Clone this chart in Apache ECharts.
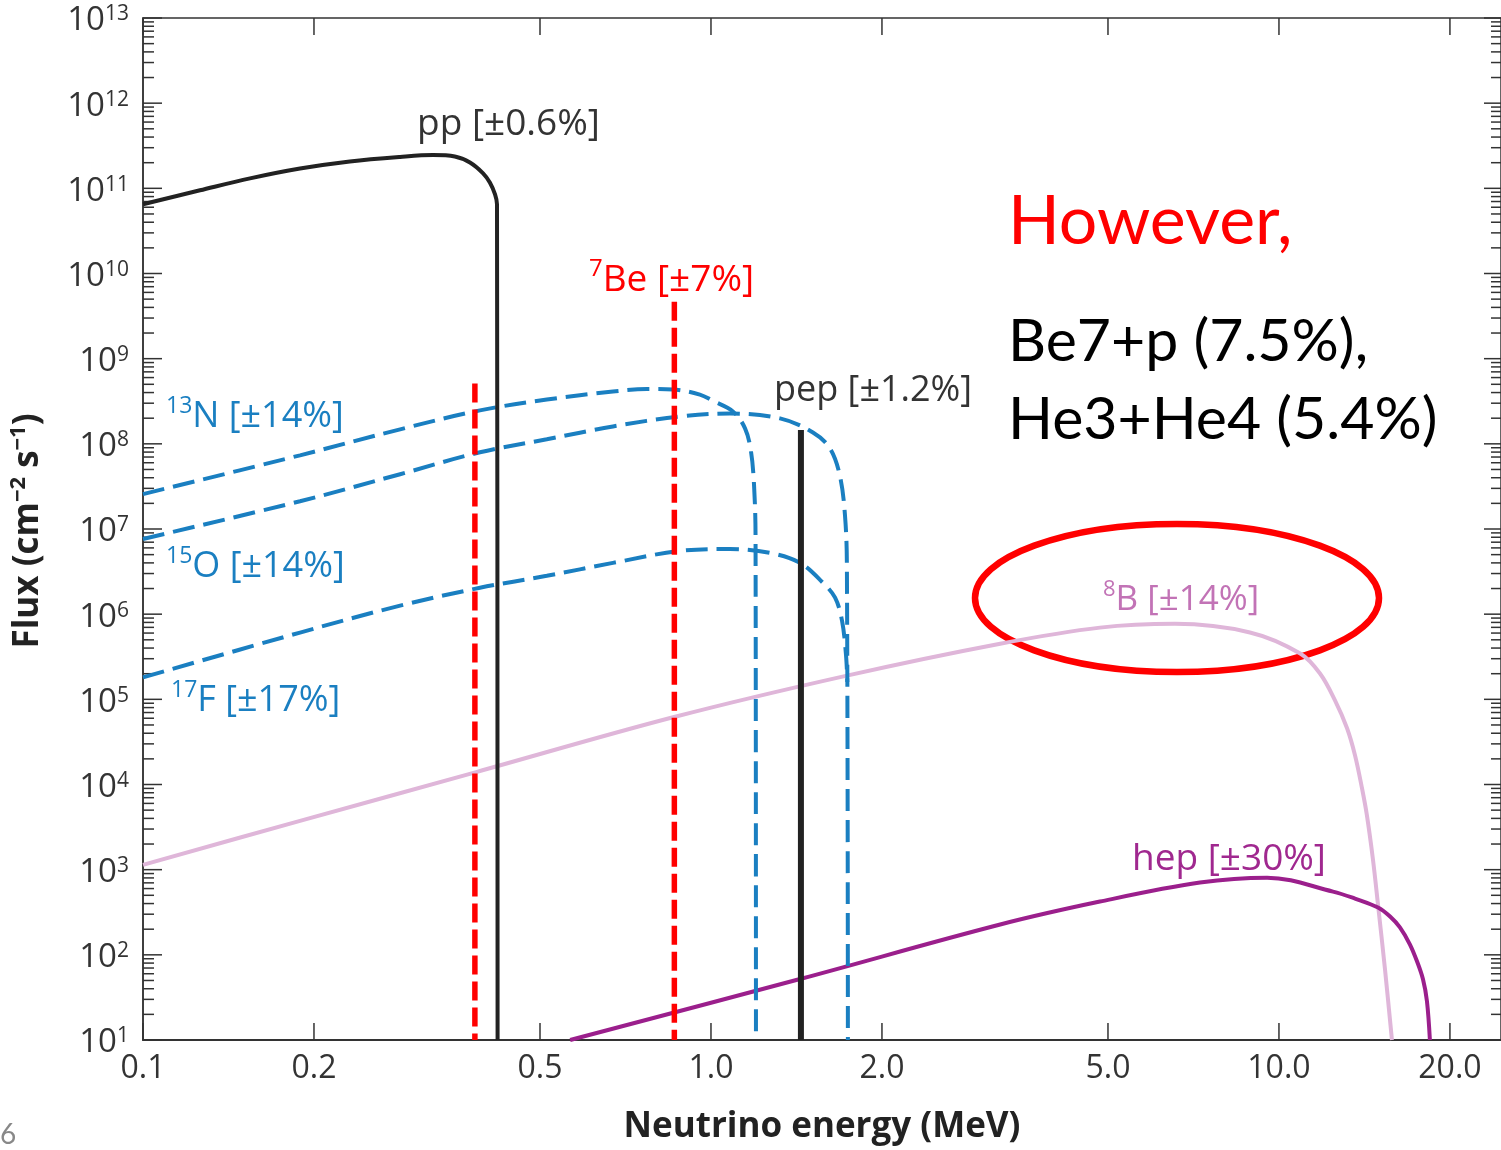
<!DOCTYPE html>
<html>
<head>
<meta charset="utf-8">
<script src="https://cdn.jsdelivr.net/npm/echarts@6/dist/echarts.min.js"></script>
<style>
  html, body { margin: 0; padding: 0; background: #fff; }
  #chart { width: 1501px; height: 1150px; }
</style>
</head>
<body>
<div id="chart"></div>
<script>
// axis ticks
var xMin = 0.1, xMax = 24.6;
var yMin = 10, yMax = 1e13;
var xTicks = [0.1, 0.2, 0.5, 1, 2, 5, 10, 20];
var xTickLabels = ['0.1', '0.2', '0.5', '1.0', '2.0', '5.0', '10.0', '20.0'];
var yExponents = [1, 2, 3, 4, 5, 6, 7, 8, 9, 10, 11, 12, 13];
var yMinorSteps = [2, 3, 4, 5, 6, 7, 8, 9];

// spectra, [energy MeV, flux]
var ppSpectrum = [[0.1, 6.5e10], [0.126, 9.48e10], [0.1543, 1.31e11], [0.189, 1.71e11], [0.2313, 2.07e11],
  [0.2836, 2.34e11], [0.324, 2.46e11], [0.354, 2.37e11], [0.3764, 2.01e11], [0.397, 1.5e11],
  [0.408, 1.17e11], [0.4167, 8.5e10], [0.42, 6.5e10], [0.421, 10]];
var n13Spectrum = [[0.1, 2.57e7], [0.189, 7.33e7], [0.2836, 1.48e8], [0.392, 2.47e8], [0.514, 3.31e8],
  [0.672, 4.11e8], [0.771, 4.4e8], [0.857, 4.34e8], [0.956, 3.79e8], [1.008, 3.2e8], [1.093, 2.4e8],
  [1.148, 1.52e8], [1.176, 8.17e7], [1.191, 3.18e7], [1.198, 8.28e6], [1.2, 10]];
var o15Spectrum = [[0.1, 7.64e6], [0.189, 2.12e7], [0.2836, 4.4e7], [0.392, 7.96e7], [0.514, 1.13e8],
  [0.672, 1.6e8], [0.882, 2.1e8], [1.08, 2.27e8], [1.323, 1.99e8], [1.512, 1.36e8], [1.62, 8.85e7],
  [1.687, 4.17e7], [1.722, 1.42e7], [1.735, 3.69e6], [1.742, 10]];
// 17F merges into the 15O drop, so it stops there
var f17Spectrum = [[0.1, 1.81e5], [0.189, 6.08e5], [0.2836, 1.26e6], [0.392, 2.04e6], [0.514, 2.82e6],
  [0.672, 4.0e6], [0.882, 5.53e6], [1.08, 5.83e6], [1.27, 5.24e6], [1.435, 4.0e6], [1.575, 2.33e6],
  [1.654, 1.56e6], [1.701, 8.4e5], [1.729, 3.27e5], [1.738, 1.6e5]];
var b8Spectrum = [[0.1, 1.14e3], [0.189, 3.74e3], [0.386, 1.4e4], [0.861, 6.2e4], [1.735, 1.9e5],
  [3.23, 4.5e5], [4.84, 6.95e5], [6.56, 7.7e5], [8.89, 6.1e5], [10.9, 3.45e5], [11.81, 2.01e5],
  [12.55, 9.73e4], [13.18, 4.58e4], [13.61, 2.21e4], [14.0, 9.1e3], [14.28, 4.4e3], [14.64, 1.31e3],
  [14.94, 390], [15.37, 67.7], [15.81, 10]];
var hepSpectrum = [[0.565, 10], [1.435, 52], [3.23, 227], [4.84, 422], [7.26, 705], [9.53, 806],
  [12.45, 553], [13.61, 458], [14.94, 360], [15.69, 282], [16.33, 210], [17.0, 133], [17.5, 84],
  [17.93, 51.7], [18.22, 28.6], [18.44, 10]];
var be7LowLine = [[0.384, 5.1e8], [0.384, 10]];
var be7HighLine = [[0.862, 4.65e9], [0.862, 10]];
var pepLine = [[1.44, 1.45e8], [1.44, 10]];

var axisColor = '#333';
var textFont = '"Open Sans", "Noto Sans", sans-serif';
var slideFont = 'Lato, "Noto Sans", sans-serif';
var blue = '#1a7fc1';
var red = '#ff0000';

var yTickData = [];
yExponents.forEach(function (e) {
  yTickData.push([xMin, Math.pow(10, e), e]);
  if (e < yExponents[yExponents.length - 1]) {
    yMinorSteps.forEach(function (k) { yTickData.push([xMin, k * Math.pow(10, e), 0]); });
  }
});
var xTickData = xTicks.map(function (v) { return [v, yMin]; });

function lineSeries(data, color, width, type, smooth) {
  return {
    type: 'line',
    data: data,
    symbol: 'none',
    smooth: smooth,
    silent: true,
    lineStyle: { color: color, width: width, type: type, cap: 'butt' }
  };
}

function supLabel(sup, rest, color, size) {
  var ss = Math.round(size * 0.64);
  return {
    text: '{s|' + sup + '}{b|' + rest + '}',
    verticalAlign: 'middle',
    rich: {
      s: { fontSize: ss, lineHeight: ss, verticalAlign: 'top', fill: color, fontFamily: textFont },
      b: { fontSize: size, lineHeight: size + 8, fill: color, fontFamily: textFont }
    }
  };
}

function plainLabel(text, color, size) {
  return { text: text, fontFamily: textFont, fontSize: size, fill: color, verticalAlign: 'middle' };
}

var chart = echarts.init(document.getElementById('chart'));

chart.setOption({
  animation: false,
  backgroundColor: '#fff',
  grid: { left: 143, right: 0, top: 18, bottom: 104, show: true, borderColor: axisColor, borderWidth: 1.5 },
  xAxis: {
    type: 'log', logBase: 10, min: xMin, max: xMax,
    axisLine: { lineStyle: { color: axisColor, width: 2 } },
    axisTick: { show: false }, axisLabel: { show: false }, splitLine: { show: false },
    name: 'Neutrino energy (MeV)', nameLocation: 'middle', nameGap: 70,
    nameTextStyle: { fontFamily: textFont, fontWeight: 'bold', fontSize: 35, color: '#222' }
  },
  yAxis: {
    type: 'log', logBase: 10, min: yMin, max: yMax,
    axisLine: { lineStyle: { color: axisColor, width: 1.5 } },
    axisTick: { show: false }, axisLabel: { show: false }, splitLine: { show: false }
  },
  series: [
    lineSeries(b8Spectrum, '#dfb6d9', 4, 'solid', 0.35),
    lineSeries(hepSpectrum, '#9b1f8c', 4, 'solid', 0.35),
    lineSeries(f17Spectrum, blue, 4, [22, 9], 0.35),
    lineSeries(o15Spectrum, blue, 4, [22, 9], 0.35),
    lineSeries(n13Spectrum, blue, 4, [22, 9], 0.35),
    lineSeries(ppSpectrum, '#222', 4, 'solid', 0.35),
    lineSeries(pepLine, '#222', 6, 'solid', false),
    lineSeries(be7LowLine, red, 5.5, [19, 7], false),
    lineSeries(be7HighLine, red, 5.5, [19, 7], false),
    {
      // x ticks on bottom and top, with labels
      type: 'custom', silent: true, clip: false,
      data: xTickData,
      renderItem: function (params, api) {
        var v = api.value(0);
        var b = api.coord([v, yMin]);
        var t = api.coord([v, yMax]);
        var st = { stroke: axisColor, lineWidth: 1.5 };
        return {
          type: 'group',
          children: [
            { type: 'line', shape: { x1: b[0], y1: b[1], x2: b[0], y2: b[1] - 17 }, style: st },
            { type: 'line', shape: { x1: t[0], y1: t[1], x2: t[0], y2: t[1] + 17 }, style: st },
            {
              type: 'text', x: b[0], y: b[1] + 13,
              style: { text: xTickLabels[params.dataIndex], align: 'center', verticalAlign: 'top',
                fontFamily: textFont, fontSize: 32, fill: axisColor }
            }
          ]
        };
      }
    },
    {
      // y ticks on left and right, decade labels
      type: 'custom', silent: true, clip: false,
      data: yTickData,
      renderItem: function (params, api) {
        var v = api.value(1);
        var exp = api.value(2);
        var l = api.coord([xMin, v]);
        var r = api.coord([xMax, v]);
        var st = { stroke: axisColor, lineWidth: 1.5 };
        var major = exp > 0;
        var children = [
          { type: 'line', shape: { x1: l[0], y1: l[1], x2: l[0] + (major ? 19 : 11), y2: l[1] }, style: st },
          { type: 'line', shape: { x1: r[0], y1: r[1], x2: r[0] - (major ? 17 : 10), y2: r[1] }, style: st }
        ];
        if (major) {
          children.push({
            type: 'text', x: l[0] - 14, y: l[1] + 3,
            style: {
              text: '{b|10}{s|' + exp + '}', align: 'right', verticalAlign: 'middle',
              rich: {
                b: { fontSize: 33, lineHeight: 34, fill: axisColor, fontFamily: textFont },
                s: { fontSize: 21, lineHeight: 21, verticalAlign: 'top', fill: axisColor, fontFamily: textFont }
              }
            }
          });
        }
        return { type: 'group', children: children };
      }
    }
  ],
  graphic: [
    {
      type: 'text', x: 28, y: 531, rotation: Math.PI / 2,
      style: {
        text: '{b|Flux (cm}{s|−2}{b| s}{s|−1}{b|)}', align: 'center', verticalAlign: 'middle',
        rich: {
          b: { fontSize: 35, lineHeight: 40, fontWeight: 'bold', fill: '#222', fontFamily: textFont },
          s: { fontSize: 22, lineHeight: 22, verticalAlign: 'top', fontWeight: 'bold', fill: '#222', fontFamily: textFont }
        }
      }
    },
    { type: 'text', x: 417, y: 124, style: plainLabel('pp [±0.6%]', '#333', 37) },
    { type: 'text', x: 589, y: 280, style: supLabel('7', 'Be [±7%]', red, 37) },
    { type: 'text', x: 774, y: 391, style: plainLabel('pep [±1.2%]', '#333', 36) },
    { type: 'text', x: 166, y: 417, style: supLabel('13', 'N [±14%]', blue, 36) },
    { type: 'text', x: 166, y: 567, style: supLabel('15', 'O [±14%]', blue, 36) },
    { type: 'text', x: 171, y: 701, style: supLabel('17', 'F [±17%]', blue, 36) },
    { type: 'text', x: 1103, y: 600, style: supLabel('8', 'B [±14%]', '#c273b6', 35) },
    { type: 'text', x: 1132, y: 859, style: plainLabel('hep [±30%]', '#a0288f', 37) },
    {
      type: 'ellipse', shape: { cx: 1177, cy: 598, rx: 202, ry: 74 },
      style: { fill: 'none', stroke: red, lineWidth: 6.5 }
    },
    { type: 'text', x: 1008, y: 222, style: { text: 'However,', fontFamily: slideFont, fontSize: 68, fill: red, verticalAlign: 'middle' } },
    { type: 'text', x: 1008, y: 342, style: { text: 'Be7+p (7.5%),', fontFamily: slideFont, fontSize: 59, fill: '#000', verticalAlign: 'middle' } },
    { type: 'text', x: 1008, y: 420, style: { text: 'He3+He4 (5.4%)', fontFamily: slideFont, fontSize: 59, fill: '#000', verticalAlign: 'middle' } },
    { type: 'text', x: 0, y: 1135, style: { text: '6', fontFamily: slideFont, fontSize: 28, fill: '#888', verticalAlign: 'middle' } }
  ]
});
</script>
</body>
</html>
